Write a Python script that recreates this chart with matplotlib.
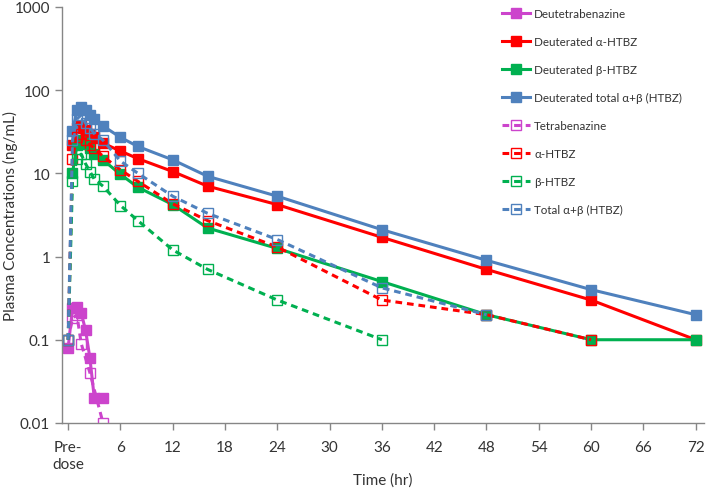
import numpy as np
import matplotlib
matplotlib.use("Agg")
import matplotlib.pyplot as plt
from matplotlib.ticker import FixedLocator, NullLocator

plt.rcParams['font.family'] = ['Lato', 'DejaVu Sans']

# ---- data ----
t_full = [0.5, 1, 1.5, 2, 2.5, 3, 4, 6, 8, 12, 16, 24, 36, 48, 60, 72]
deut_total = [32, 57, 63, 58, 50, 45, 37, 27, 21, 14.5, 9.2, 5.3, 2.1, 0.9, 0.4, 0.2]
deut_alpha = [22, 35, 37, 33, 30, 27, 23, 18.5, 15, 10.5, 7.0, 4.2, 1.7, 0.7, 0.3, 0.1]
deut_beta = [10, 22, 25, 23, 20, 17, 14.5, 9.7, 6.8, 4.2, 2.2, 1.25, 0.5, 0.2, 0.1, 0.1]

t_deutetra = [0, 0.5, 1, 1.5, 2, 2.5, 3, 4]
deutetra = [0.08, 0.24, 0.25, 0.21, 0.13, 0.06, 0.02, 0.02]

t_tetra = [0, 0.5, 1, 1.5, 2.5, 4]
tetra = [0.1, 0.18, 0.2, 0.09, 0.04, 0.01]

t_std_a = [0, 0.5, 1, 1.5, 2, 2.5, 3, 4, 6, 8, 12, 16, 24, 36, 48, 60]
std_alpha = [0.1, 15, 27, 30, 25, 22, 20, 16, 11, 8, 4.3, 2.7, 1.3, 0.3, 0.2, 0.1]

t_std_b = [0, 0.5, 1, 1.5, 2, 2.5, 3, 4, 6, 8, 12, 16, 24, 36]
std_beta = [0.1, 8, 15, 17, 13, 10.5, 8.5, 7, 4.1, 2.7, 1.2, 0.7, 0.3, 0.1]

t_std_t = [0, 0.5, 1, 1.5, 2, 2.5, 3, 4, 6, 8, 12, 16, 24, 36, 48]
std_total = [0.1, 25, 45, 50, 40, 35, 30, 25, 14, 10, 5.3, 3.3, 1.6, 0.42, 0.2]

x_ticks = [0, 6, 12, 18, 24, 30, 36, 42, 48, 54, 60, 66, 72]
x_ticklabels = ["Pre-\ndose", "6", "12", "18", "24", "30", "36", "42", "48", "54", "60", "66", "72"]
y_ticks = [0.01, 0.1, 1, 10, 100, 1000]
y_ticklabels = ["0.01", "0.1", "1", "10", "100", "1000"]

MAG = '#CC44CC'
RED = '#FF0000'
GRN = '#00B050'
BLU = '#4F81BD'

fig = plt.figure(figsize=(7.09, 4.89), dpi=100)
ax = fig.add_axes([0.0875, 0.133, 0.906, 0.851])

lw = 2.2
ms = 6.5
solid_kw = dict(linestyle='-', linewidth=lw, marker='s', markersize=ms)
dash_kw = dict(linestyle=(0, (2.2, 1.6)), linewidth=lw, marker='s', markersize=ms,
               markerfacecolor='none', markeredgewidth=1.0)

ax.plot(t_deutetra, deutetra, color=MAG, label='Deutetrabenazine', **solid_kw)
ax.plot(t_full, deut_alpha, color=RED, label='Deuterated \u03b1-HTBZ', **solid_kw)
ax.plot(t_full, deut_beta, color=GRN, label='Deuterated \u03b2-HTBZ', **solid_kw)
ax.plot(t_full, deut_total, color=BLU, label='Deuterated total \u03b1+\u03b2 (HTBZ)', **solid_kw)
ax.plot(t_tetra, tetra, color=MAG, label='Tetrabenazine', **dash_kw)
ax.plot(t_std_a, std_alpha, color=RED, label='\u03b1-HTBZ', **dash_kw)
ax.plot(t_std_b, std_beta, color=GRN, label='\u03b2-HTBZ', **dash_kw)
ax.plot(t_std_t, std_total, color=BLU, label='Total \u03b1+\u03b2 (HTBZ)', **dash_kw)

ax.set_yscale('log')
ax.set_ylim(0.01, 1000)
ax.set_xlim(-0.7, 73)
ax.yaxis.set_major_locator(FixedLocator(y_ticks))
ax.yaxis.set_minor_locator(NullLocator())
ax.set_yticklabels(y_ticklabels)
ax.set_xticks(x_ticks)
ax.set_xticklabels(x_ticklabels, linespacing=1.35)

axis_col = '#868686'
for s in ['top', 'right']:
    ax.spines[s].set_visible(False)
for s in ['left', 'bottom']:
    ax.spines[s].set_color(axis_col)
    ax.spines[s].set_linewidth(1.0)
ax.tick_params(axis='both', direction='out', color=axis_col, length=5, width=1,
               labelsize=11, labelcolor='#333333')
ax.tick_params(axis='x', pad=7)

ax.set_ylabel('Plasma Concentrations (ng/mL)', fontsize=11, color='#333333')
ax.set_xlabel('Time (hr)', fontsize=11, color='#333333')
ax.yaxis.set_label_coords(-0.068, 0.5)
ax.xaxis.set_label_coords(0.5, -0.118)

leg = ax.legend(loc='upper left', bbox_to_anchor=(0.668, 1.022), frameon=False,
                fontsize=8.4, labelspacing=1.45, handlelength=2.4, handletextpad=0.4)
for txt in leg.get_texts():
    txt.set_color('#333333')

fig.savefig('out.png', dpi=100)
